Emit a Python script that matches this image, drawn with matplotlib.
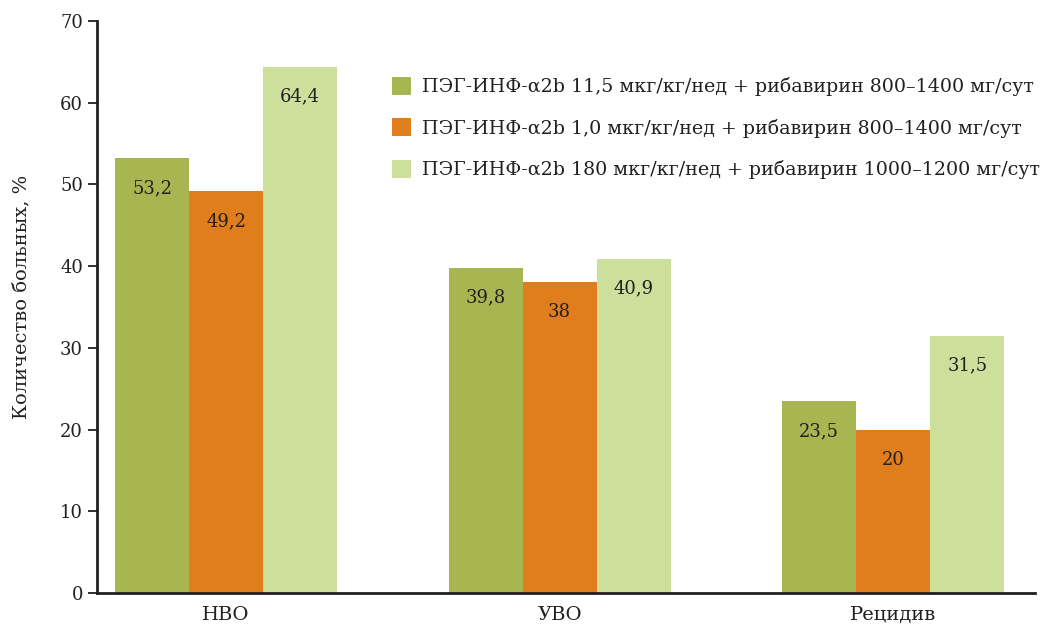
import matplotlib
matplotlib.use("Agg")
import matplotlib.pyplot as plt
import numpy as np

groups = ["НВО", "УВО", "Рецидив"]
series_names = [
    "ПЭГ-ИНФ-α2b 11,5 мкг/кг/нед + рибавирин 800–1400 мг/сут",
    "ПЭГ-ИНФ-α2b 1,0 мкг/кг/нед + рибавирин 800–1400 мг/сут",
    "ПЭГ-ИНФ-α2b 180 мкг/кг/нед + рибавирин 1000–1200 мг/сут",
]
peg_11_5 = [53.2, 39.8, 23.5]
peg_1_0 = [49.2, 38.0, 20.0]
peg_180 = [64.4, 40.9, 31.5]
yticks = [0, 10, 20, 30, 40, 50, 60, 70]

colors = ["#a8b652", "#e07d1c", "#cde09b"]
ink = "#231f20"

plt.rcParams["font.family"] = ["DejaVu Serif"]

fig = plt.figure(figsize=(10.51, 6.25), dpi=100)
ax = fig.add_axes([0.0923, 0.0512, 0.8927, 0.9152])

x = np.arange(len(groups))
w = 0.222
for i, (vals, col, name) in enumerate(zip([peg_11_5, peg_1_0, peg_180], colors, series_names)):
    bars = ax.bar(x + (i - 1) * w, vals, w, color=col, label=name, linewidth=0)
    # value labels sit inside the bar, just under its top
    for b, v in zip(bars, vals):
        txt = f"{v:g}".replace(".", ",")
        ax.annotate(txt, (b.get_x() + b.get_width() / 2, v), xytext=(0, -30),
                    textcoords="offset pixels",
                    ha="center", va="center", fontsize=13, color=ink)

ax.set_xlim(-0.387, 2.426)
ax.set_ylim(0, 70)
ax.set_yticks(yticks)
ax.set_xticks(x)
ax.set_xticklabels(groups)
ax.tick_params(axis="x", length=0, pad=9, labelsize=14, colors=ink)
ax.tick_params(axis="y", direction="out", length=6.5, width=1.3, pad=3.5, labelsize=13, colors=ink)
ax.set_ylabel("Количество больных, %", fontsize=14, color=ink)
ax.yaxis.set_label_coords(-0.071, 0.517)

for s in ["top", "right"]:
    ax.spines[s].set_visible(False)
for s in ["left", "bottom"]:
    ax.spines[s].set_linewidth(2)
    ax.spines[s].set_color(ink)

leg = ax.legend(loc="upper left", bbox_to_anchor=(0.3145, 0.902), frameon=False,
                borderpad=0, borderaxespad=0,
                fontsize=13.65, handlelength=0.98, handleheight=1.08, handletextpad=0.62,
                labelspacing=1.16, labelcolor=ink)

fig.savefig("out.png", dpi=100)
